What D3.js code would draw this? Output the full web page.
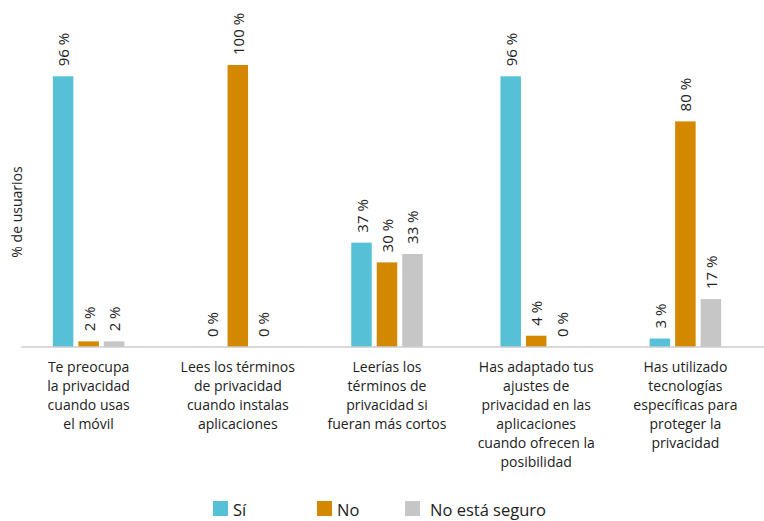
<!DOCTYPE html>
<html>
<head>
<meta charset="utf-8">
<script src="https://cdn.jsdelivr.net/npm/d3@7"></script>
<style>
  html, body { margin: 0; padding: 0; background: #fff; }
  svg { display: block; }
  text { font-family: "Open Sans", "Noto Sans", sans-serif; fill: #222; }
</style>
</head>
<body>
<svg id="chart" width="764" height="521"></svg>
<script>
const categories = [
  ["Te preocupa", "la privacidad", "cuando usas", "el móvil"],
  ["Lees los términos", "de privacidad", "cuando instalas", "aplicaciones"],
  ["Leerías los", "términos de", "privacidad si", "fueran más cortos"],
  ["Has adaptado tus", "ajustes de", "privacidad en las", "aplicaciones", "cuando ofrecen la", "posibilidad"],
  ["Has utilizado", "tecnologías", "específicas para", "proteger la", "privacidad"]
];
const seriesNames = ["Sí", "No", "No está seguro"];
const valuesSi = [96, 0, 37, 96, 3];
const valuesNo = [2, 100, 30, 4, 80];
const valuesNoSeguro = [2, 0, 33, 0, 17];
const colors = ["#56C1D6", "#D48800", "#C6C6C6"];
const yAxisTitle = "% de usuarios";

const seriesValues = [valuesSi, valuesNo, valuesNoSeguro];
const catKeys = categories.map((c, i) => "c" + i);

const svg = d3.select("#chart");

const x = d3.scaleBand().domain(catKeys).range([14, 760]).padding(0);
const xSub = d3.scaleBand().domain(seriesNames).range([-35.75, 35.75]).paddingInner(0.196).paddingOuter(0);
const y = d3.scaleLinear().domain([0, 100]).range([347, 65]);

// bars
const groups = svg.selectAll("g.grp")
  .data(catKeys)
  .join("g")
  .attr("class", "grp")
  .attr("transform", d => `translate(${x(d) + x.bandwidth() / 2},0)`);

groups.each(function(key, ci) {
  const g = d3.select(this);
  const data = seriesNames.map((s, si) => ({ s, si, v: seriesValues[si][ci] }));
  g.selectAll("rect")
    .data(data)
    .join("rect")
    .attr("x", d => xSub(d.s))
    .attr("width", xSub.bandwidth())
    .attr("y", d => y(d.v))
    .attr("height", d => y(0) - y(d.v))
    .attr("fill", d => colors[d.si]);
  g.selectAll("text.val")
    .data(data)
    .join("text")
    .attr("class", "val")
    .attr("transform", d => `translate(${xSub(d.s) + xSub.bandwidth() / 2},${y(d.v) - 10}) rotate(-90)`)
    .attr("text-anchor", "start")
    .attr("dominant-baseline", "central")
    .attr("font-size", 15)
    .text(d => d.v + " %");
});

// baseline axis
const xAxis = d3.axisBottom(x).tickSize(0).tickFormat("");
const axG = svg.append("g").attr("transform", `translate(0,${y(0)})`).call(xAxis);
axG.select(".domain").attr("stroke", "#cccccc").attr("stroke-width", 1.5).attr("d", "M21,0H764");

// category labels
svg.selectAll("text.cat")
  .data(catKeys)
  .join("text")
  .attr("class", "cat")
  .attr("text-anchor", "middle")
  .attr("font-size", 14)
  .attr("x", d => x(d) + x.bandwidth() / 2)
  .attr("y", 372)
  .each(function(d, i) {
    d3.select(this).selectAll("tspan")
      .data(categories[i])
      .join("tspan")
      .attr("x", x(d) + x.bandwidth() / 2)
      .attr("dy", (t, j) => j === 0 ? 0 : 19)
      .text(t => t);
  });

// y axis title
svg.append("text")
  .attr("transform", `translate(16.5,212) rotate(-90)`)
  .attr("text-anchor", "middle")
  .attr("dominant-baseline", "central")
  .attr("font-size", 14)
  .text(yAxisTitle);

// legend (layout positions)
const legendX = d3.scaleOrdinal().domain(seriesNames).range([213, 317, 405]);
const legendGap = d3.scaleOrdinal().domain(seriesNames).range([20, 20, 25]);
const lg = svg.selectAll("g.leg")
  .data(seriesNames)
  .join("g")
  .attr("class", "leg")
  .attr("transform", d => `translate(${legendX(d)},501)`);
lg.append("rect").attr("width", 15).attr("height", 15).attr("fill", (d, i) => colors[i]);
lg.append("text").attr("x", d => legendGap(d)).attr("y", 15).attr("font-size", 16.5).text(d => d);
</script>
</body>
</html>
